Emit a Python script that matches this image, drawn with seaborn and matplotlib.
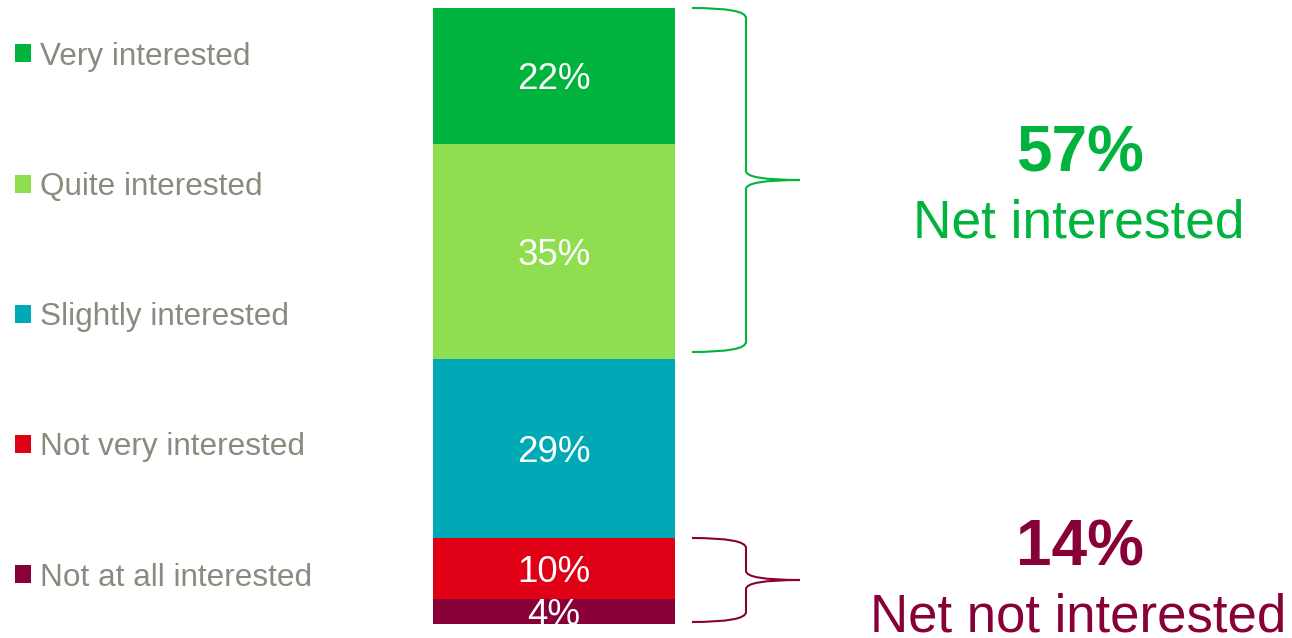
import matplotlib
matplotlib.use("Agg")
import matplotlib.pyplot as plt
from matplotlib.patches import Patch, PathPatch
from matplotlib.path import Path
import seaborn as sns
import pandas as pd

sns.set_theme(style="white")
plt.rcParams["font.family"] = ["Liberation Sans", "DejaVu Sans"]

# Survey answers, top of the bar first
categories = ["Very interested", "Quite interested", "Slightly interested",
              "Not very interested", "Not at all interested"]
values = [22, 35, 29, 10, 4]
colors = ["#00B33C", "#8EDE50", "#00A9B6", "#DF0016", "#870038"]

net_interested = 57
net_not_interested = 14
green_text = "#00B33C"
maroon_text = "#870038"
legend_gray = "#8A8A7E"

W, H = 1292, 638
fig = plt.figure(figsize=(W / 100, H / 100), dpi=100)

# Bar axes (pixel box of the stacked bar)
bx0, bx1, by0, by1 = 433, 675, 8, 624
ax = fig.add_axes([bx0 / W, 1 - by1 / H, (bx1 - bx0) / W, (by1 - by0) / H])

# Stacked bar: draw cumulative totals from the largest down
cum = pd.Series(values).cumsum().tolist()
for end, col in reversed(list(zip(cum, colors))):
    sns.barplot(x=["All"], y=[end], color=col, width=1.0, ax=ax,
                saturation=1, edgecolor="none", linewidth=0)

ax.set_xlim(-0.5, 0.5)
ax.set_ylim(100, 0)
ax.axis("off")

start = 0
for v in values:
    ax.annotate(f"{v}%", xy=(0, start + v / 2), xytext=(0, -3),
                textcoords="offset points", ha="center", va="center",
                color="white", fontsize=26.5, annotation_clip=False)
    start += v

# Legend on the left
handles = [Patch(facecolor=c, edgecolor="none") for c in colors]
leg = fig.legend(handles, categories, loc="upper left",
                 bbox_to_anchor=(15 / W, 1 - 41.5 / H), frameon=False,
                 fontsize=22.7, labelcolor=legend_gray,
                 handlelength=0.5, handleheight=0.5, handletextpad=0.28,
                 labelspacing=3.18, borderaxespad=0, borderpad=0)

# Overlay in pixel coordinates for braces and summary text
ov = fig.add_axes([0, 0, 1, 1], zorder=5)
ov.set_xlim(0, W)
ov.set_ylim(H, 0)
ov.axis("off")
ov.patch.set_alpha(0)


def brace(y0, y1, color, xl=692, xs=746, xt=800, r=10, rt=9):
    ym = (y0 + y1) / 2
    verts = [
        (xl, y0), (xs, y0), (xs, y0 + r),
        (xs, ym - rt),
        (xs, ym), (xt, ym),
        (xs, ym), (xs, ym + rt),
        (xs, y1 - r),
        (xs, y1), (xl, y1),
    ]
    codes = [Path.MOVETO, Path.CURVE3, Path.CURVE3,
             Path.LINETO,
             Path.CURVE3, Path.CURVE3,
             Path.CURVE3, Path.CURVE3,
             Path.LINETO,
             Path.CURVE3, Path.CURVE3]
    ov.add_patch(PathPatch(Path(verts, codes), facecolor="none",
                           edgecolor=color, lw=1.5))


brace(8, 352, green_text)
brace(538, 622, maroon_text)

ov.text(1080, 155, f"{net_interested}%", ha="center", va="center",
        fontsize=46, fontweight="bold", color=green_text)
ov.text(1079, 223, "Net interested", ha="center", va="center",
        fontsize=38.3, color=green_text)
ov.text(1080, 549, f"{net_not_interested}%", ha="center", va="center",
        fontsize=46, fontweight="bold", color=maroon_text)
ov.text(1078, 631, "Net not interested", ha="center", va="baseline",
        fontsize=38, color=maroon_text)

fig.savefig("out.png", dpi=100)
